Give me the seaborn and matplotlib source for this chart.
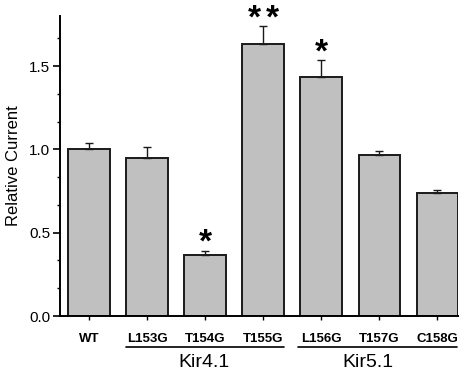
import numpy as np
import pandas as pd
import seaborn as sns
import matplotlib.pyplot as plt
from matplotlib.ticker import MultipleLocator

sns.set_theme(style="ticks", rc={'text.color': 'black', 'axes.labelcolor': 'black',
                                 'xtick.color': 'black', 'ytick.color': 'black',
                                 'axes.edgecolor': 'black'})
plt.rcParams['font.family'] = ['Liberation Sans', 'DejaVu Sans']

mutants = ['WT', 'L153G', 'T154G', 'T155G', 'L156G', 'T157G', 'C158G']
current = [1.00, 0.95, 0.366, 1.633, 1.436, 0.968, 0.740]
sem = [0.04, 0.064, 0.026, 0.107, 0.099, 0.024, 0.016]
stars = ['', '', '*', '**', '*', '', '']
groups = ['Kir4.1', 'Kir5.1']

df = pd.DataFrame({'mutant': mutants, 'current': current})

fig = plt.figure(figsize=(4.66, 3.74), dpi=100)
ax = fig.add_axes([60/466, 58/374, 398/466, 300/374])

sns.barplot(data=df, x='mutant', y='current', color='#c0c0c0', saturation=1,
            width=0.71, edgecolor='#1a1a1a', linewidth=1.4, errorbar=None, ax=ax)
ax.errorbar(range(len(mutants)), current, yerr=[np.zeros(len(sem)), sem],
            fmt='none', ecolor='#1a1a1a', elinewidth=1.0, capsize=3, capthick=1.0)

# significance stars, one text per star so the spacing can be set
for i, s in enumerate(stars):
    n = len(s)
    for k in range(n):
        dx = (k - (n - 1) / 2) * 13
        ax.annotate('*', (i, current[i] + sem[i]), xytext=(dx, -6), textcoords='offset points',
                    ha='center', va='bottom', fontsize=24, fontweight='bold')

ax.set_xlim(-0.5, 6.36)
ax.set_ylim(0, 1.8)
ax.yaxis.set_major_locator(MultipleLocator(0.5))
ax.yaxis.set_minor_locator(MultipleLocator(1/6))
ax.tick_params(axis='y', which='major', length=5, width=1.2, labelsize=11, pad=2)
ax.tick_params(axis='y', which='minor', length=2.5, width=1.0)
ax.tick_params(axis='x', length=3, width=1.0, pad=9)
for lab in ax.get_xticklabels():
    lab.set_fontweight('bold')
    lab.set_fontsize(9.5)
ax.set_xlabel('')
ax.set_ylabel('Relative Current', fontsize=12, labelpad=6)
sns.despine(ax=ax)
for sp in ['left', 'bottom']:
    ax.spines[sp].set_linewidth(1.4)

# group underlines and labels
trans = ax.get_xaxis_transform()
for (x0, x1, xc), name in zip([(0.64, 3.36, 1.98), (3.6, 6.35, 4.8)], groups):
    ax.plot([x0, x1], [-0.103, -0.103], color='black', lw=1.2, transform=trans, clip_on=False)
    ax.text(xc, -0.155, name, transform=trans, ha='center', va='center', fontsize=14)

fig.savefig('out.png', dpi=100, facecolor='white')
